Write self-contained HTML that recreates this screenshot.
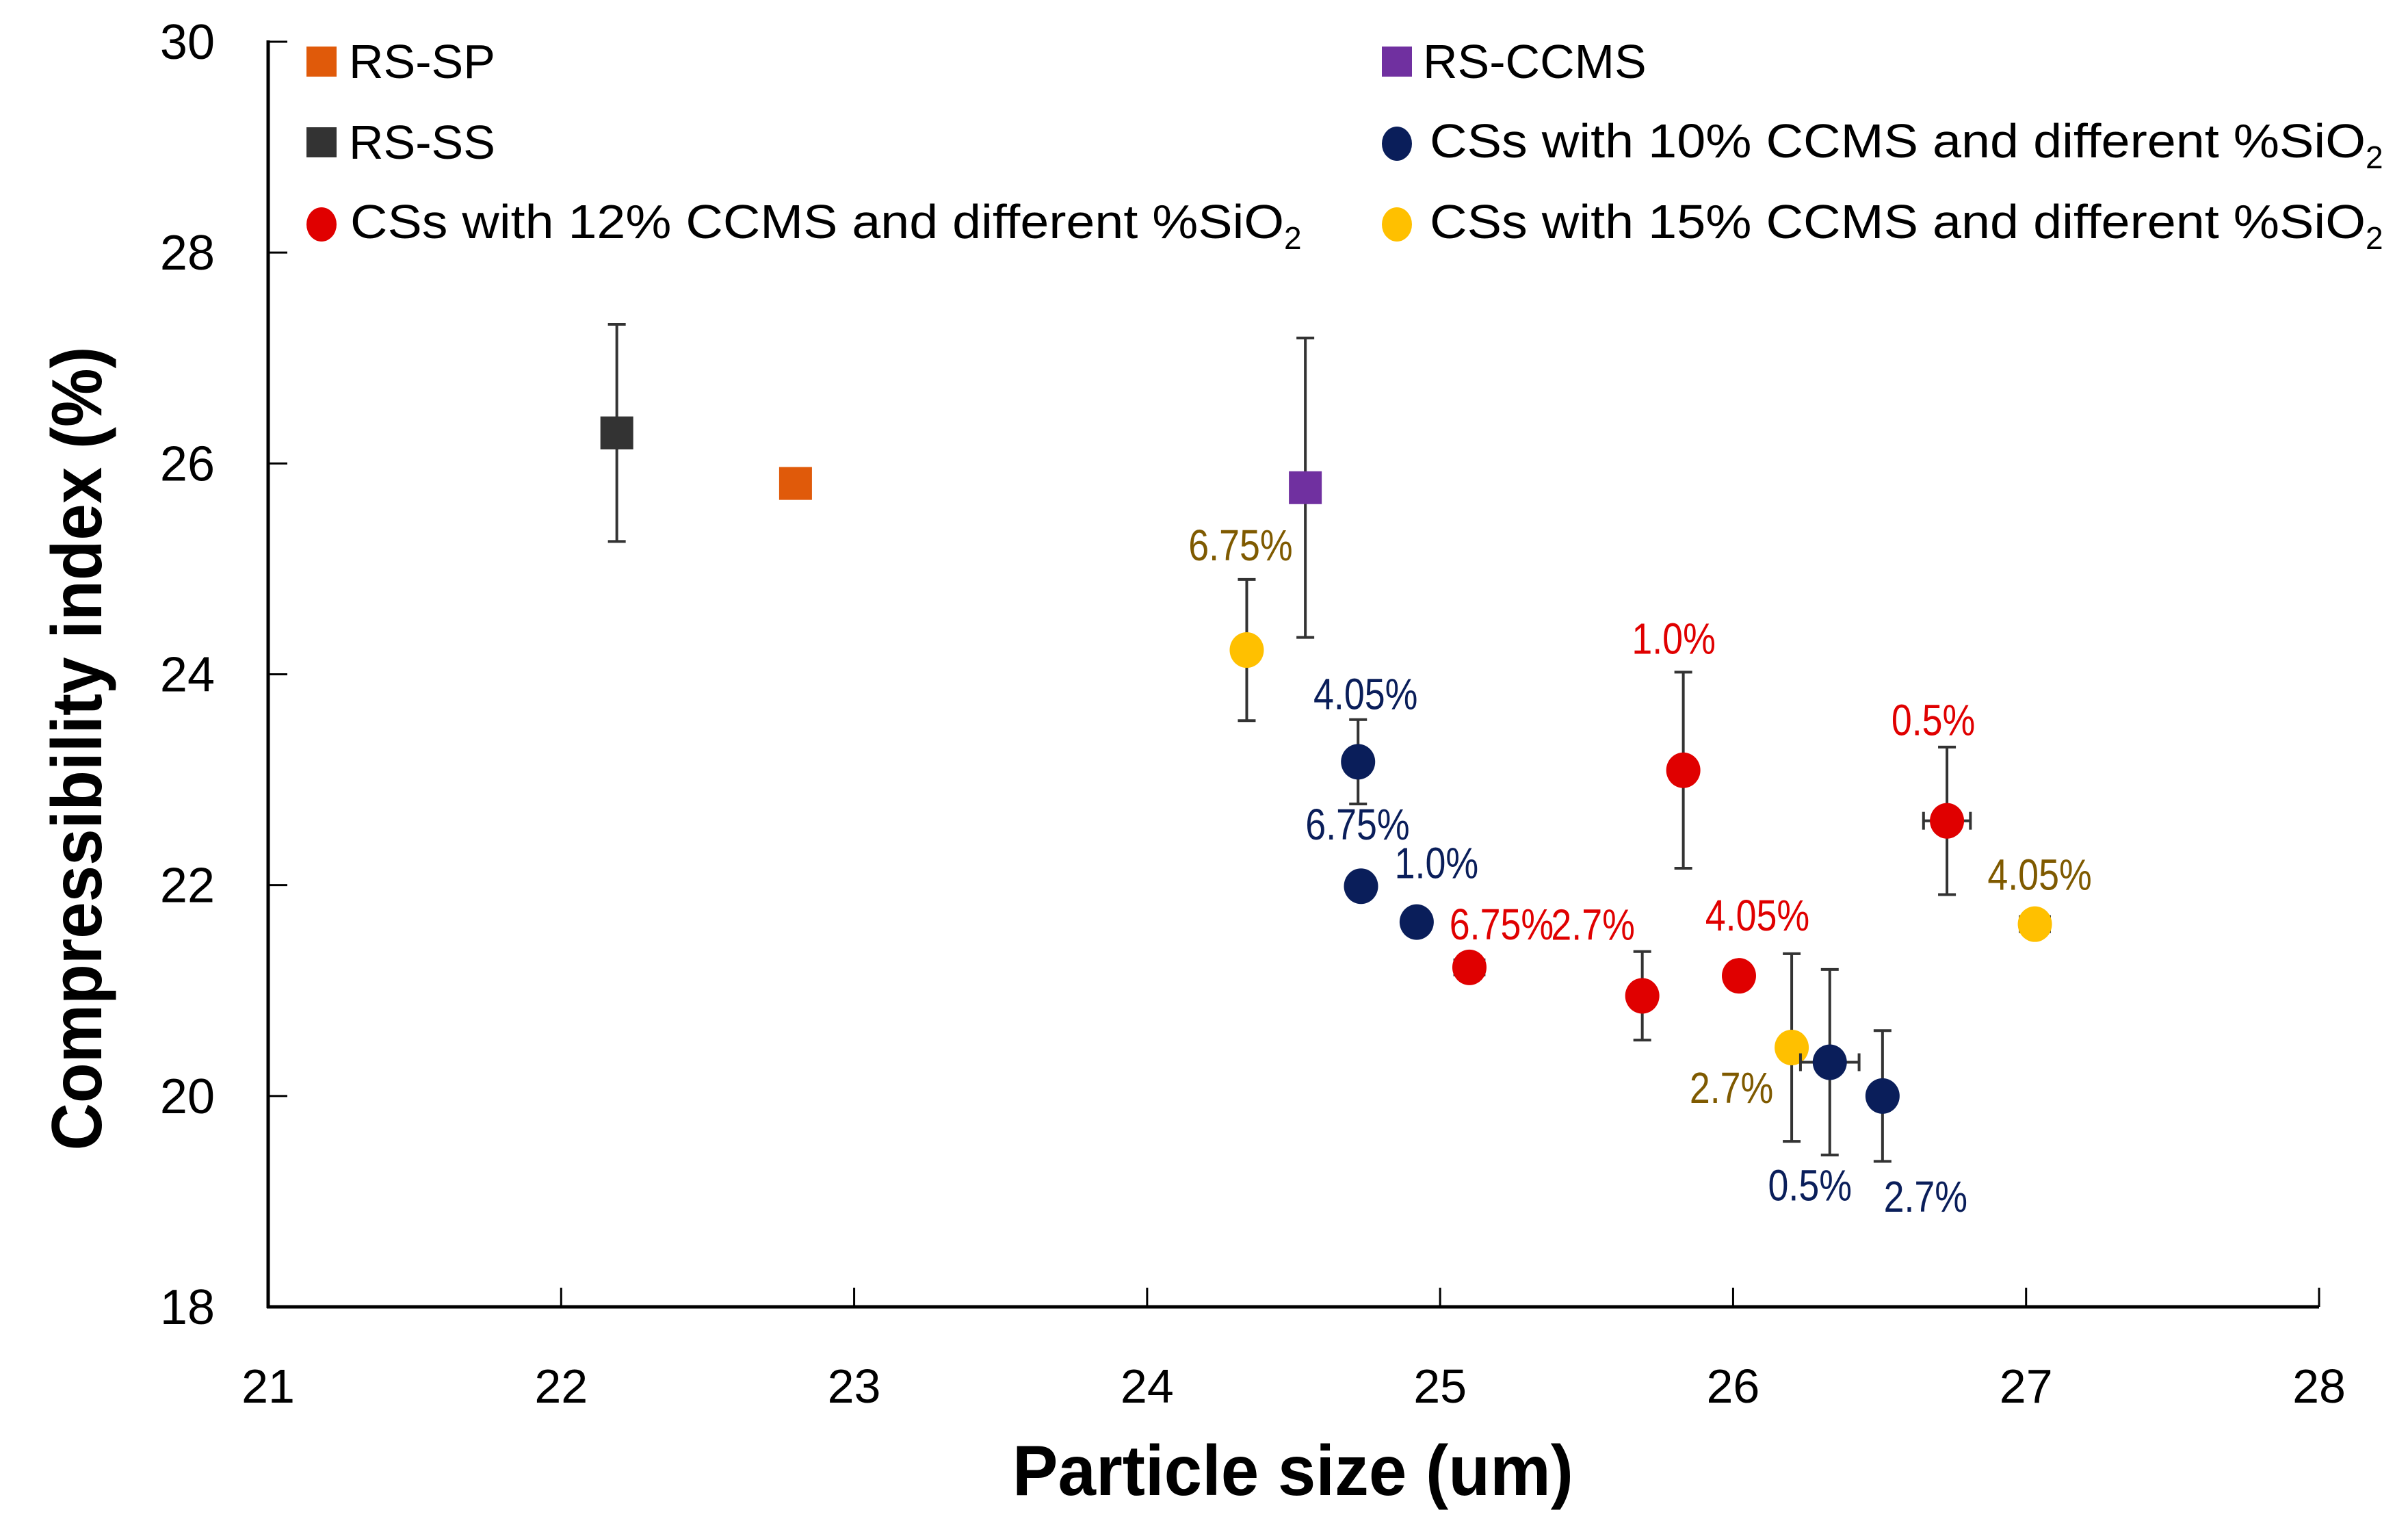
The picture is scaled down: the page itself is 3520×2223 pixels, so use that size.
<!DOCTYPE html>
<html><head><meta charset="utf-8"><style>
html,body{margin:0;padding:0;background:#fff;}
svg{display:block;font-family:"Liberation Sans",Arial,sans-serif;}
</style></head><body>
<svg id="chart" width="3520" height="2223" viewBox="0 0 3520 2223" xmlns="http://www.w3.org/2000/svg">
<rect width="3520" height="2223" fill="#fff"/>
<g id="axes"></g>
<g id="marks"></g>
<g id="legend">
  <rect x="448" y="68" width="44" height="44" fill="#E05A0A"/>
  <text x="510" y="114" font-size="70">RS-SP</text>
  <rect x="448" y="186" width="44" height="44" fill="#333"/>
  <text x="510" y="232" font-size="70">RS-SS</text>
  <ellipse cx="470" cy="328" rx="22" ry="25" fill="#E00000"/>
  <text x="512" y="348" font-size="70"><tspan textLength="1365" lengthAdjust="spacingAndGlyphs">CSs with 12% CCMS and different %SiO</tspan><tspan font-size="46" dy="16">2</tspan></text>
  <rect x="2020" y="68" width="44" height="44" fill="#7030A0"/>
  <text x="2080" y="114" font-size="70">RS-CCMS</text>
  <ellipse cx="2042" cy="210" rx="22" ry="25" fill="#0A1E5A"/>
  <text x="2090" y="230" font-size="70"><tspan textLength="1368" lengthAdjust="spacingAndGlyphs">CSs with 10% CCMS and different %SiO</tspan><tspan font-size="46" dy="16">2</tspan></text>
  <ellipse cx="2042" cy="328" rx="22" ry="25" fill="#FFC000"/>
  <text x="2090" y="348" font-size="70"><tspan textLength="1368" lengthAdjust="spacingAndGlyphs">CSs with 15% CCMS and different %SiO</tspan><tspan font-size="46" dy="16">2</tspan></text>
</g>
</svg>
<script>
// ---- data ----
const xTicks = [21,22,23,24,25,26,27,28];
const yTicks = [18,20,22,24,26,28,30];
const seriesNames = ["RS-SS","RS-SP","RS-CCMS","CS10","CS12","CS15"];
const ssX = [22.19]; const ssY = [26.29]; const ssErr = [1.03];
const spX = [22.80]; const spY = [25.81]; const spErr = [0.02];
const ccmsX = [24.54]; const ccmsY = [25.77]; const ccmsErr = [1.42];
const cs10X = [24.72, 24.73, 24.92, 26.33, 26.51];
const cs10Y = [23.17, 21.99, 21.65, 20.32, 20.00];
const cs10Err = [0.40, 0.05, 0.05, 0.88, 0.62];
const cs10XErr = [0.02, 0.02, 0.02, 0.10, 0.02];
const cs10Labels = ["4.05%","6.75%","1.0%","0.5%","2.7%"];
const cs12X = [25.83, 26.73, 25.10, 25.69, 26.02];
const cs12Y = [23.09, 22.61, 21.22, 20.95, 21.14];
const cs12Err = [0.93, 0.70, 0.03, 0.42, 0.03];
const cs12XErr = [0.02, 0.08, 0.05, 0.02, 0.02];
const cs12Labels = ["1.0%","0.5%","6.75%","2.7%","4.05%"];
const cs15X = [24.34, 26.20, 27.03];
const cs15Y = [24.23, 20.46, 21.63];
const cs15Err = [0.67, 0.89, 0.03];
const cs15XErr = [0.02, 0.02, 0.05];
const cs15Labels = ["6.75%","2.7%","4.05%"];
// label layout offsets (pixels, not data)
const cs10Off = [[11,-99],[-5,-90],[29,-86],[-29,180],[63,147]];
const cs12Off = [[-14,-192],[-20,-147],[47,-63],[-72,-104],[27,-88]];
const cs15Off = [[-9,-153],[-88,59],[7,-72]];

const NS = "http://www.w3.org/2000/svg";
const X0=392, X1=3390, Y0=1910, Y1=61;
function X(v){return X0+(v-21)/(28-21)*(X1-X0);}
function Y(v){return Y0-(v-18)/(30-18)*(Y0-Y1);}
function mk(tag, attrs, parent){const e=document.createElementNS(NS,tag);for(const k in attrs)e.setAttribute(k,attrs[k]);parent.appendChild(e);return e;}
const axes=document.getElementById('axes');
const marks=document.getElementById('marks');

let a=mk('line',{x1:X0,y1:Y1-2,x2:X0,y2:Y0+2,stroke:'#000','stroke-width':5},axes);


a=mk('line',{x1:X0-2,y1:Y0,x2:X1,y2:Y0,stroke:'#000','stroke-width':5},axes);


xTicks.forEach(t=>{
  const l=mk('line',{x1:X(t),y1:Y0,x2:X(t),y2:Y0-28,stroke:'#000','stroke-width':3},axes);
  
  
  const tx=mk('text',{x:X(t),y:2050,'font-size':70,'text-anchor':'middle'},axes);
  tx.textContent=t;
  
  
});
yTicks.forEach(t=>{
  const l=mk('line',{x1:X0,y1:Y(t),x2:X0+28,y2:Y(t),stroke:'#000','stroke-width':3},axes);
  
  
  const tx=mk('text',{x:314,y:Y(t)+25,'font-size':72,'text-anchor':'end'},axes);
  tx.textContent=t;
  
  
});
let tt=mk('text',{x:1890,y:2185,'font-size':104,'font-weight':'bold','text-anchor':'middle',textLength:820,lengthAdjust:'spacingAndGlyphs'},axes);
tt.textContent='Particle size (um)';


tt=mk('text',{x:0,y:0,'font-size':104,'font-weight':'bold','text-anchor':'middle',textLength:1175,lengthAdjust:'spacingAndGlyphs',transform:'translate(148,1094) rotate(-90)'},axes);
tt.textContent='Compressibility index (%)';



function errbar(x,y,e,xe){
  const cx=X(x), cy=Y(y);
  if(Y(y-e)-cy>4){
    const g=mk('path',{d:`M${cx},${Y(y+e)}V${Y(y-e)}M${cx-13},${Y(y+e)}h26M${cx-13},${Y(y-e)}h26`,stroke:'#333','stroke-width':4,fill:'none'},marks);
    
    
  }
  if(xe && X(x+xe)-cx>4){
    const g=mk('path',{d:`M${X(x-xe)},${cy}H${X(x+xe)}M${X(x-xe)},${cy-13}v26M${X(x+xe)},${cy-13}v26`,stroke:'#333','stroke-width':4,fill:'none'},marks);
    
    
  }
}
function squares(xs,ys,es,color,name){
  xs.forEach((x,i)=>{
    errbar(x,ys[i],es[i],0);
    const r=mk('rect',{x:X(x)-24,y:Y(ys[i])-24,width:48,height:48,fill:color},marks);
    
    
  });
}
function circles(xs,ys,es,xes,labels,offs,color,lcolor,name){
  xs.forEach((x,i)=>{
    errbar(x,ys[i],es[i],xes[i]);
    const c=mk('ellipse',{cx:X(x),cy:Y(ys[i]),rx:25,ry:26,fill:color},marks);
    
    
    const t=mk('text',{x:X(x)+offs[i][0],y:Y(ys[i])+offs[i][1]+22,'font-size':64,'text-anchor':'middle',fill:lcolor},marks);
    t.textContent=labels[i];
    
    
    const w=t.getComputedTextLength();
    if(w>0){t.setAttribute('textLength',(w*0.84).toFixed(1));t.setAttribute('lengthAdjust','spacingAndGlyphs');}
  });
}
squares(ssX,ssY,ssErr,'#333','rs-ss');
squares(spX,spY,spErr,'#E05A0A','rs-sp');
squares(ccmsX,ccmsY,ccmsErr,'#7030A0','rs-ccms');
circles(cs15X,cs15Y,cs15Err,cs15XErr,cs15Labels,cs15Off,'#FFC000','#7F5A00','cs15');
circles(cs12X,cs12Y,cs12Err,cs12XErr,cs12Labels,cs12Off,'#E00000','#E00000','cs12');
circles(cs10X,cs10Y,cs10Err,cs10XErr,cs10Labels,cs10Off,'#0A1E5A','#0A1E5A','cs10');
</script>
</body></html>
